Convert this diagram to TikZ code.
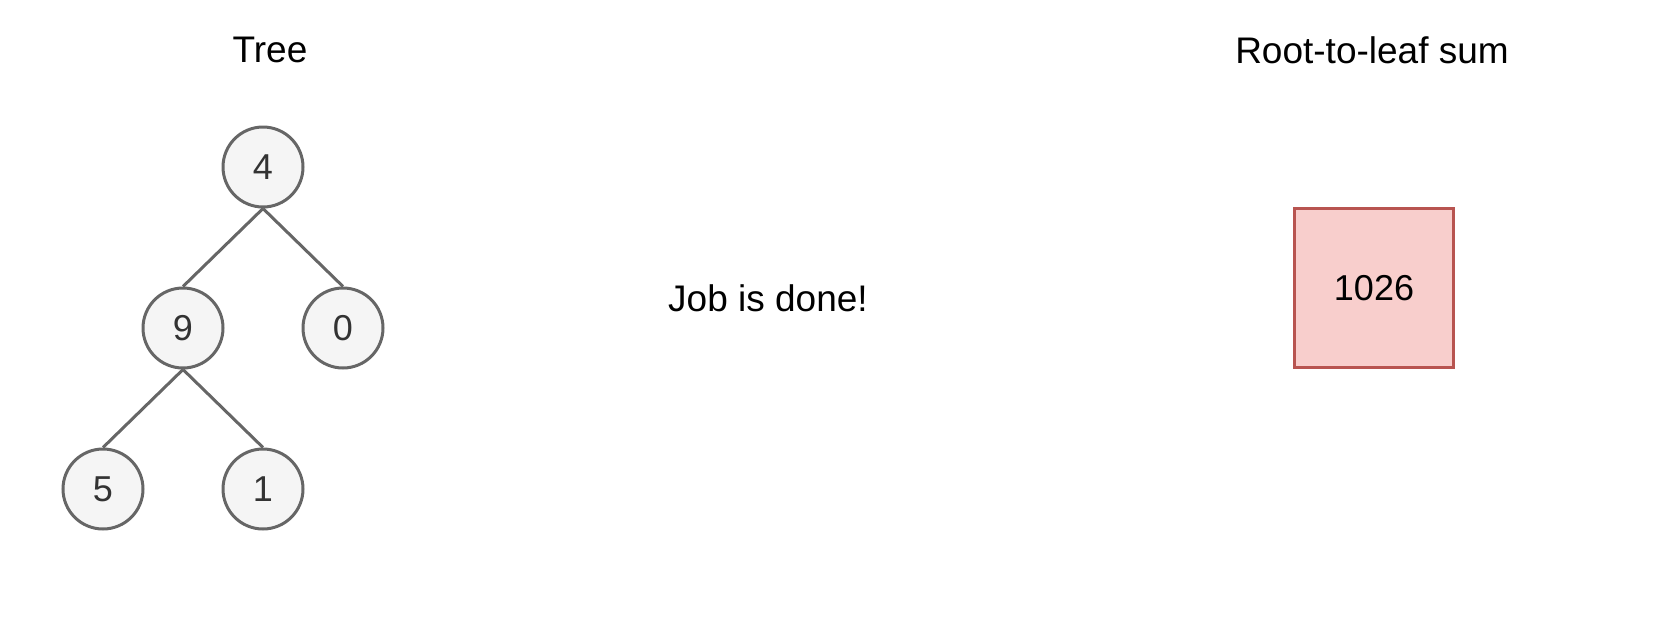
\documentclass[tikz,border=0pt]{standalone}
\usepackage{fontspec}
\setmainfont{Liberation Sans}
\definecolor{treegray}{HTML}{666666}
\definecolor{treefill}{HTML}{F5F5F5}
\definecolor{sumred}{HTML}{B85450}
\definecolor{sumpink}{HTML}{F8CECC}
\tikzset{
    treenode/.style={draw=treegray, circle, fill=treefill, line width=3pt, minimum size=80pt, inner sep=0pt, text=black!80, font=\fontsize{36}{40}\selectfont},
    sumbox/.style={draw=sumred, rectangle, fill=sumpink, line width=3pt, minimum size=159pt, inner sep=0pt, font=\fontsize{36}{40}\selectfont},
    caption/.style={font=\fontsize{37}{42}\selectfont},
    edge/.style={draw=treegray, line width=3pt}
}

\begin{document}
\begin{tikzpicture}[x=1pt,y=-1pt]
    \useasboundingbox (0,0) rectangle (1672,640);

    \node[caption] (treetitle) at (270,50) {Tree};
    \node[caption] (sumtitle) at (1372,50) {Root-to-leaf sum};

    \node[treenode] (n4) at (263,167) {4};
    \node[treenode] (n9) at (183,328) {9};
    \node[treenode] (n0) at (343,328) {0};
    \node[treenode] (n5) at (103,489) {5};
    \node[treenode] (n1) at (263,489) {1};
    \draw[edge] (n4.south) -- (n9.north);
    \draw[edge] (n4.south) -- (n0.north);
    \draw[edge] (n9.south) -- (n5.north);
    \draw[edge] (n9.south) -- (n1.north);

    \node[caption] (status) at (768,298) {Job is done!};
    \node[sumbox] (total) at (1374,288) {1026};
\end{tikzpicture}
\end{document}
